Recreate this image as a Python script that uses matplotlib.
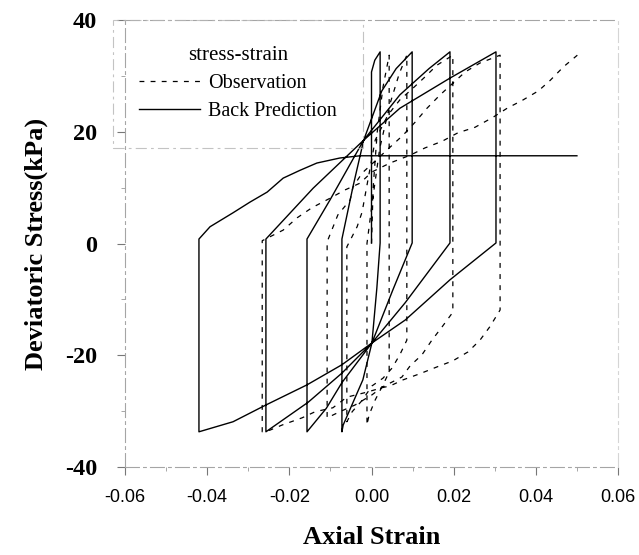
import matplotlib
matplotlib.use("Agg")
import matplotlib.pyplot as plt
from matplotlib.ticker import MultipleLocator, FormatStrFormatter

plt.rcParams['lines.scale_dashes'] = False
plt.rcParams['axes.unicode_minus'] = False

# ---------------- data ----------------
# Back Prediction (solid): one continuous stress path
pred_strain = [
    0.0000, 0.0000, 0.0008, 0.0021,                          # first loading
    0.0021, 0.0013, 0.0001, -0.0021, -0.0069, -0.0072,       # unload 1
    -0.0072, -0.0045, -0.0019, 0.0025, 0.0060, 0.0099,       # reload 1
    0.0099, 0.0052, 0.0001, -0.0072, -0.0110, -0.0157,       # unload 2
    -0.0157, -0.0101, -0.0019, 0.0069, 0.0140, 0.0191,       # reload 2
    0.0191, 0.0082, 0.0001, -0.0072, -0.0154, -0.0257,       # unload 3
    -0.0257, -0.0142, -0.0019, 0.0069, 0.0191, 0.0303,       # reload 3
    0.0303, 0.0191, 0.0082, 0.0001, -0.0072, -0.0157, -0.0257, -0.0337, -0.0420,  # unload 4
    -0.0420, -0.0393, -0.0337, -0.0296, -0.0254, -0.0215, -0.0174, -0.0133,
    -0.0077, -0.0028, 0.0500,                                # final loading
]
pred_stress = [
    0.1, 30.7, 32.8, 34.3,
    0.1, -8.0, -17.8, -24.4, -32.5, -33.7,
    0.8, 10.2, 18.5, 27.3, 31.3, 34.3,
    0.1, -8.3, -17.8, -24.9, -29.5, -33.7,
    0.8, 7.8, 18.5, 26.6, 31.3, 34.3,
    0.1, -10.6, -17.8, -23.2, -28.4, -33.7,
    0.8, 9.9, 18.5, 24.2, 29.6, 34.3,
    0.1, -6.5, -13.7, -17.8, -21.7, -25.3, -28.9, -31.9, -33.7,
    0.8, 3.0, 5.5, 7.4, 9.2, 11.7, 13.1, 14.4,
    15.3, 15.7, 15.7,
]

# Observation (dashed): one continuous stress path
obs_strain = [
    0.0000, 0.0004, 0.0014, 0.0028, 0.0043,
    0.0043, 0.0028, 0.0009, -0.0006, -0.0011,
    -0.0011, 0.0003, 0.0020, 0.0045, 0.0068, 0.0086,
    0.0086, 0.0069, 0.0050, 0.0028, 0.0001, -0.0023, -0.0047, -0.0060,
    -0.0060, -0.0035, -0.0023, 0.0009, 0.0040, 0.0069, 0.0101, 0.0130, 0.0159, 0.0198,
    0.0198, 0.0172, 0.0147, 0.0123, 0.0094, 0.0074, 0.0050, 0.0026, 0.0001, -0.0040, -0.0077, -0.0108,
    -0.0108, -0.0082, -0.0052, -0.0045, -0.0023, 0.0077, 0.0106, 0.0135, 0.0167, 0.0228, 0.0264, 0.0313,
    0.0313, 0.0288, 0.0264, 0.0235, 0.0198, 0.0159, 0.0118, 0.0077, 0.0045, 0.0026, -0.0011,
    -0.0060, -0.0094, -0.0137, -0.0169, -0.0218, -0.0247, -0.0266,
    -0.0266, -0.0215, -0.0181, -0.0145, -0.0101, -0.0064, -0.0028, 0.0001, 0.0045, 0.0094,
    0.0130, 0.0172, 0.0210, 0.0252, 0.0296, 0.0330, 0.0369, 0.0406, 0.0435, 0.0467, 0.0501,
]
obs_stress = [
    0.0, 10.0, 20.0, 28.0, 33.7,
    -23.0, -25.3, -28.0, -30.7, -32.5,
    0.0, 8.0, 17.0, 25.0, 30.5, 33.7,
    -17.3, -19.9, -22.3, -24.1, -25.5, -28.1, -30.1, -31.9,
    -0.6, 3.0, 5.6, 18.5, 23.0, 25.7, 27.8, 29.8, 31.9, 33.7,
    -12.3, -14.9, -17.3, -19.9, -21.9, -23.9, -24.8, -25.7, -27.1, -28.9, -30.1, -31.2,
    0.3, 5.1, 7.8, 10.1, 12.6, 19.4, 21.7, 24.2, 26.6, 30.7, 32.3, 33.7,
    -11.9, -14.9, -17.3, -19.4, -21.0, -22.1, -23.3, -24.4, -25.5, -25.8, -26.6,
    -27.5, -29.4, -30.1, -31.2, -32.5, -33.4, -33.7,
    0.5, 2.4, 4.6, 6.4, 8.1, 9.6, 10.8, 12.8, 14.4, 15.8,
    17.1, 18.3, 19.8, 20.8, 22.6, 24.2, 25.7, 27.3, 29.2, 31.6, 33.7,
]

x_ticks = [-0.06, -0.04, -0.02, 0.00, 0.02, 0.04, 0.06]
y_ticks = [-40, -20, 0, 20, 40]

# ---------------- figure ----------------
fig = plt.figure(figsize=(6.39, 5.55), dpi=100)
W, H = 639, 555
ax = fig.add_axes([125 / W, 1 - 467 / H, (618 - 125) / W, (467 - 20) / H])

ax.plot(obs_strain, obs_stress, color='black', lw=0.9,
        linestyle=(0, (3.5, 4.5)), label='Observation')
ax.plot(pred_strain, pred_stress, color='black', lw=1.0,
        linestyle='-', label='Back Prediction')

ax.set_xlim(-0.06, 0.06)
ax.set_ylim(-40, 40)
ax.set_xticks(x_ticks)
ax.set_yticks(y_ticks)
ax.xaxis.set_minor_locator(MultipleLocator(0.01))
ax.yaxis.set_minor_locator(MultipleLocator(10))
ax.xaxis.set_major_formatter(FormatStrFormatter('%.2f'))

for t in ax.get_xticklabels():
    t.set_fontfamily('Liberation Sans')
    t.set_fontsize(13)
for t in ax.get_yticklabels():
    t.set_fontfamily('Liberation Serif')
    t.set_fontweight('bold')
    t.set_fontsize(17.5)

ax.tick_params(axis='both', which='major', direction='out', length=6,
               width=0.8, color='#777777')
ax.tick_params(axis='both', which='minor', direction='out', length=3,
               width=0.6, color='#999999')
ax.tick_params(axis='x', which='major', pad=10)
ax.tick_params(axis='y', which='major', pad=14)

for side, sp in ax.spines.items():
    sp.set_color('#a5a5a5')
    sp.set_linewidth(0.8)
    sp.set_linestyle((0, (10, 3, 2, 3)))
ax.spines['right'].set_color('#d5d5d5')

ax.set_xlabel('Axial Strain', family='Liberation Serif', fontweight='bold',
              fontsize=19, labelpad=14)
ax.set_ylabel('Deviatoric Stress(kPa)', family='Liberation Serif',
              fontweight='bold', fontsize=19, labelpad=12)

leg = ax.legend(loc='upper left', bbox_to_anchor=(-0.0243, 1.0),
                title='stress-strain', prop={'family': 'Liberation Serif', 'size': 14.5},
                title_fontproperties={'family': 'Liberation Serif', 'size': 15},
                handlelength=3.0, handletextpad=0.4, labelspacing=0.45,
                borderpad=1.3, borderaxespad=0.0, frameon=True, fancybox=False)
fr = leg.get_frame()
fr.set_facecolor('none')
fr.set_edgecolor('#b5b5b5')
fr.set_linewidth(0.8)
fr.set_linestyle((0, (8, 3, 2, 3)))

fig.savefig('out.png', dpi=100)
